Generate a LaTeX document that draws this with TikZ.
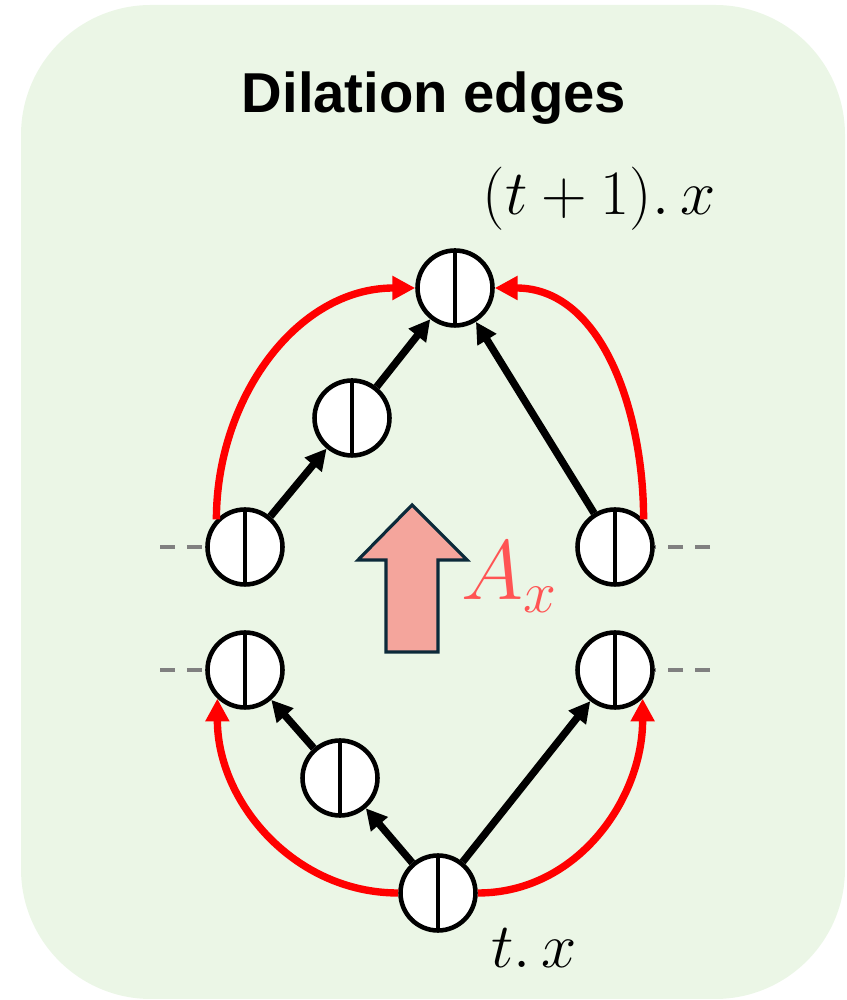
\RequirePackage{fix-cm}
\documentclass[tikz,border=0pt]{standalone}
\usepackage{fontspec}
\usepackage{tikz}
\usetikzlibrary{arrows.meta}
\usepackage{amsmath}
\newfontfamily\titlefont{Liberation Sans}
\definecolor{bgpanel}{HTML}{EBF6E6}
\definecolor{dilred}{HTML}{FF0000}
\definecolor{axred}{HTML}{FF5454}
\definecolor{arrfill}{HTML}{F4A59C}
\definecolor{arrline}{HTML}{0C2A3A}
\definecolor{stubgray}{HTML}{808080}

\begin{document}
\begin{tikzpicture}[x=0.02cm,y=0.02cm,
  qb/.style={circle,draw,line width=2.6pt,fill=white,minimum size=1.5cm,inner sep=0pt,
    path picture={\draw[line width=2pt] (path picture bounding box.north) -- (path picture bounding box.south);}},
  blk/.style={line width=4.2pt,-{Triangle[length=12pt,width=12pt]}},
  dil/.style={dilred,line width=4.2pt,-{Triangle[length=13pt,width=13pt]}},
  stub/.style={stubgray,line width=2.3pt,dash pattern=on 8.5pt off 6.8pt}]
  \useasboundingbox (0,0) rectangle (846,1000);
  \fill[bgpanel,rounded corners=2.6cm] (21,1) rectangle (845,995);

  \node[anchor=base,font=\titlefont\fontsize{32}{38}\selectfont\bfseries] (title) at (434,887) {Dilation edges};

  % qubits
  \node[qb] (tq) at (455,712) {};
  \node[qb] (uq) at (352,582) {};
  \node[qb] (lu) at (245,453) {};
  \node[qb] (ru) at (615,453) {};
  \node[qb] (ll) at (245,330) {};
  \node[qb] (rl) at (615,330) {};
  \node[qb] (lq) at (340,222) {};
  \node[qb] (bq) at (438,107) {};

  \coordinate (elu) at (160,453);
  \coordinate (ell) at (160,330);
  \coordinate (eru) at (710,453);
  \coordinate (erl) at (710,330);
  \foreach \e/\n in {elu/lu,ell/ll,eru/ru,erl/rl}
    \draw[stub] (\e) -- (\n);

  \draw[blk] (lu) -- (uq);
  \draw[blk] (uq) -- (tq);
  \draw[blk] (ru) -- (tq);
  \draw[blk] (bq) -- (lq);
  \draw[blk] (lq) -- (ll);
  \draw[blk] (bq) -- (rl);

  \draw[dil] (lu.136) to[out=90,in=180] (tq.west);
  \draw[dil] (ru.44) to[out=90,in=0] (tq.east);
  \draw[dil] (bq.west) to[out=180,in=-90] (ll.226);
  \draw[dil] (bq.east) to[out=0,in=-90] (rl.-46);

  % big arrow
  \draw[fill=arrfill,draw=arrline,line width=1.8pt,line join=miter]
    (386,348) -- (386,440) -- (358,440) -- (412,495) -- (467,440) -- (438,440) -- (438,348) -- cycle;
  \node[anchor=base west,text=axred,font=\fontsize{48}{56}\selectfont,inner sep=0pt] (ax) at (461,400) {$A_x$};

  \node[anchor=base,font=\fontsize{36}{42}\selectfont,inner sep=0pt] (tnext) at (599,785) {$(t+1).\,x$};
  \node[anchor=base,font=\fontsize{36}{42}\selectfont,inner sep=0pt] (tcur) at (534,32) {$t.\,x$};
\end{tikzpicture}
\end{document}
